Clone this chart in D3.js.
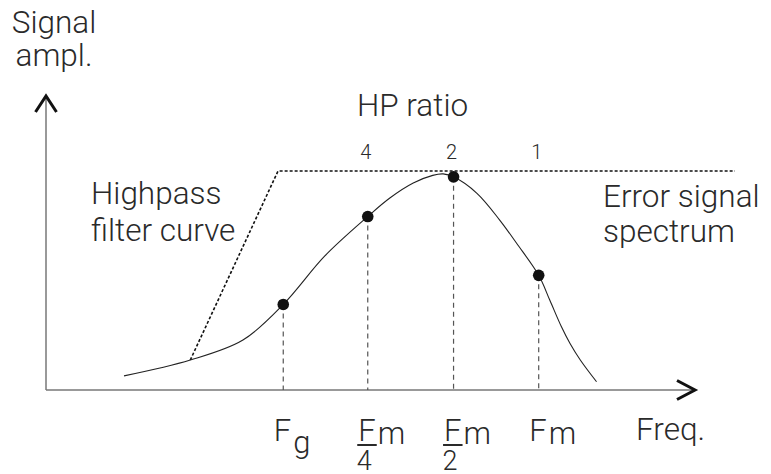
<!DOCTYPE html>
<html>
<head>
<meta charset="utf-8">
<script src="https://cdn.jsdelivr.net/npm/d3@7"></script>
<style>
    body { margin: 0; background: #fff; }
    svg text { font-family: Roboto, "Liberation Sans", sans-serif; font-weight: 300; fill: #2a2a2a; }
</style>
</head>
<body>
<div id="chart"></div>
<script>
// error signal spectrum (frequency, amplitude) in arbitrary units 0..100
const spectrumFreq = [12.0, 22.2, 30.3, 36.5, 42.9, 49.5, 52.9, 56.5, 59.5, 61.1, 62.7, 66.3, 69.8, 72.4, 75.8, 77.5, 79.3, 80.6, 82.2, 84.7];
const spectrumAmp = [4.8, 10.2, 17.0, 29.1, 45.6, 59.0, 65.3, 70.4, 73.0, 73.5, 72.5, 66.9, 57.8, 49.9, 39.0, 30.6, 21.5, 15.9, 10.2, 2.8];

// highpass filter curve
const highpassFreq = [22.2, 35.7, 106];
const highpassAmp = [10.2, 74.5, 74.5];

// marked frequencies: Fg, Fm/4, Fm/2, Fm
const markerFreq = [36.5, 49.5, 62.7, 75.8];
const markerAmp = [29.1, 59.0, 72.5, 39.0];

// tick labels under the frequency axis
const tickMain = ["F", "F", "F", "F"];
const tickSub = ["g", "m", "m", "m"];
const tickDenom = ["", "4", "2", ""];

// HP ratio labels above the markers
const hpRatio = ["", "4", "2", "1"];

const width = 771, height = 474;

const svg = d3.select("#chart")
    .append("svg")
    .attr("width", width)
    .attr("height", height);

const x = d3.scaleLinear().domain([0, 100]).range([46, 696]);
const y = d3.scaleLinear().domain([0, 100]).range([390, 96]);

// axes
svg.append("line")
    .attr("x1", x(0)).attr("x2", x(100))
    .attr("y1", y(0)).attr("y2", y(0))
    .attr("stroke", "#777").attr("stroke-width", 1.5);

svg.append("line")
    .attr("x1", x(0)).attr("x2", x(0))
    .attr("y1", y(0)).attr("y2", y(100))
    .attr("stroke", "#777").attr("stroke-width", 1.5);

// arrow heads
svg.append("path")
    .attr("d", "M" + (x(0) - 10.5) + "," + (y(100) + 16) + "L" + x(0) + "," + y(100) + "L" + (x(0) + 10.5) + "," + (y(100) + 16))
    .attr("fill", "none").attr("stroke", "#111").attr("stroke-width", 3);

svg.append("path")
    .attr("d", "M" + (x(100) - 19) + "," + (y(0) - 9.5) + "L" + (x(100) - 1) + "," + y(0) + "L" + (x(100) - 19) + "," + (y(0) + 9.5))
    .attr("fill", "none").attr("stroke", "#111").attr("stroke-width", 3);

// vertical dashed drop lines
svg.selectAll(".drop")
    .data(markerFreq)
    .enter().append("line")
    .attr("class", "drop")
    .attr("x1", d => x(d)).attr("x2", d => x(d))
    .attr("y1", (d, i) => y(markerAmp[i])).attr("y2", y(0))
    .attr("stroke", "#555").attr("stroke-width", 1.2)
    .attr("stroke-dasharray", "5,4");

// highpass curve
const hp = highpassFreq.map((f, i) => [f, highpassAmp[i]]);
svg.append("path")
    .datum(hp)
    .attr("fill", "none")
    .attr("stroke", "#111")
    .attr("stroke-width", 1.6)
    .attr("stroke-dasharray", "3,2")
    .attr("d", d3.line().x(d => x(d[0])).y(d => y(d[1])));

// spectrum
const spec = spectrumFreq.map((f, i) => [f, spectrumAmp[i]]);
svg.append("path")
    .datum(spec)
    .attr("fill", "none")
    .attr("stroke", "#222")
    .attr("stroke-width", 1.1)
    .attr("d", d3.line().curve(d3.curveCatmullRom.alpha(0.5)).x(d => x(d[0])).y(d => y(d[1])));

// markers
svg.selectAll(".dot")
    .data(markerFreq)
    .enter().append("circle")
    .attr("class", "dot")
    .attr("cx", d => x(d))
    .attr("cy", (d, i) => y(markerAmp[i]))
    .attr("r", 5.8)
    .attr("fill", "#111");

// HP ratio numbers
svg.selectAll(".ratio")
    .data(hpRatio)
    .enter().append("text")
    .attr("class", "ratio")
    .attr("x", (d, i) => x(markerFreq[i]) - 2)
    .attr("y", 159)
    .attr("text-anchor", "middle")
    .style("font-size", "20px")
    .text(d => d);

// tick labels
markerFreq.forEach(function (f, i) {
    let cx = x(f);
    let g = svg.append("g");
    g.append("text")
        .attr("x", cx - 9.5)
        .attr("y", 441)
        .style("font-size", "31px")
        .text(tickMain[i]);
    let subY = tickSub[i] === "g" ? 453 : 444;
    g.append("text")
        .attr("x", cx + 10)
        .attr("y", subY)
        .style("font-size", "31px")
        .text(tickSub[i]);
    if (tickDenom[i]) {
        g.append("line")
            .attr("x1", cx - 10.5).attr("x2", cx + 9)
            .attr("y1", 445).attr("y2", 445)
            .attr("stroke", "#2a2a2a").attr("stroke-width", 2);
        g.append("text")
            .attr("x", cx - 11)
            .attr("y", 470)
            .style("font-size", "27px")
            .text(tickDenom[i]);
    }
});

// annotations
function label(lines, px, py, lh, anchor) {
    let t = svg.append("text")
        .attr("x", px).attr("y", py)
        .attr("text-anchor", anchor || "start")
        .style("font-size", "31.5px");
    lines.forEach(function (s, i) {
        t.append("tspan").attr("x", px).attr("dy", i === 0 ? 0 : lh).text(s);
    });
}

label(["Signal", "ampl."], 54, 33, 33, "middle");
label(["HP ratio"], 357, 116);
label(["Highpass", "filter curve"], 91, 204, 37);
label(["Error signal", "spectrum"], 603, 207, 35);
label(["Freq."], 636, 440);
</script>
</body>
</html>
